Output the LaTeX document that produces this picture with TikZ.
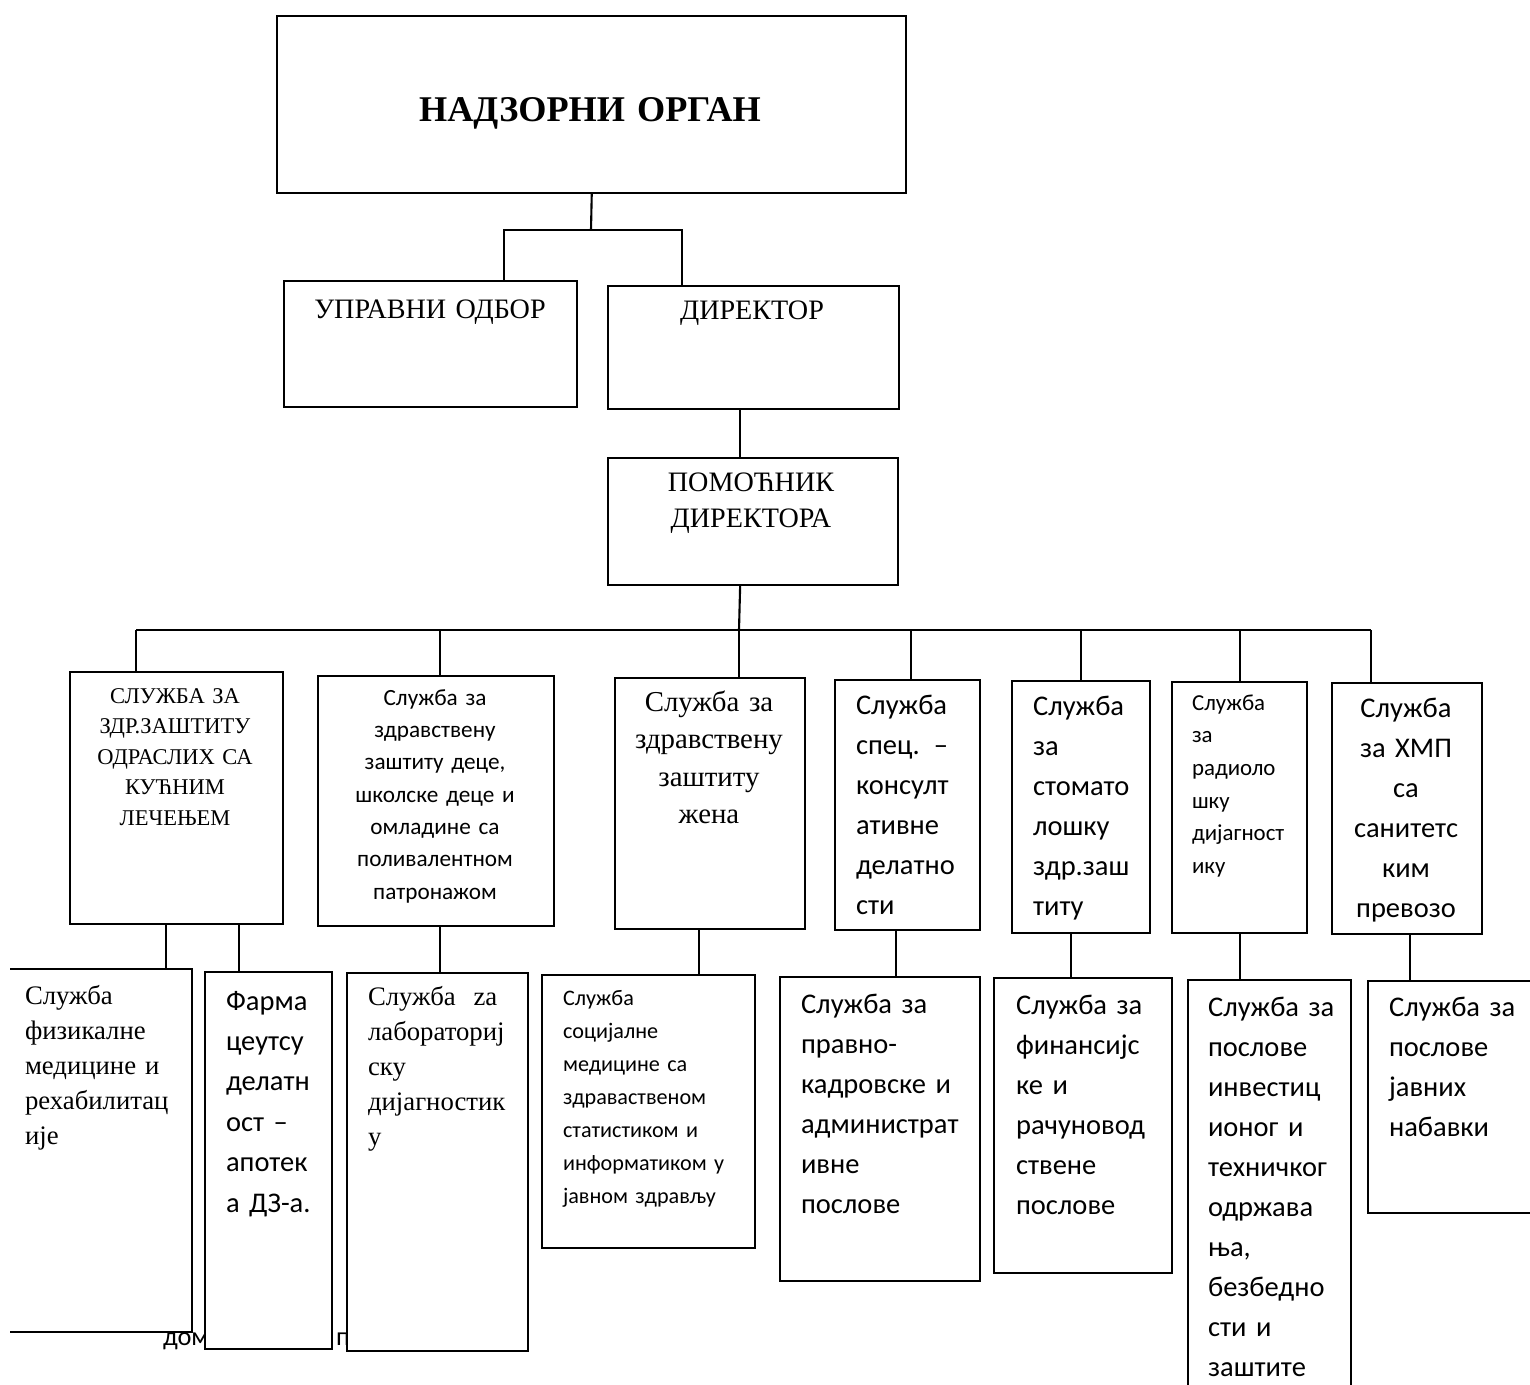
\documentclass[tikz,border=0pt]{standalone}
\usepackage{fontspec}
\setmainfont{Liberation Serif}
\setsansfont{Carlito}
\usetikzlibrary{positioning}

\begin{document}
\begin{tikzpicture}
        [x = 0.01cm, y = -0.01cm, line width = 0.6pt,
        box/.style = {draw, anchor = north west, inner sep = 0, fill = white},
        lbl/.style = {inner sep = 0, text width = 2.4cm, anchor = base west, align = left},
        clbl/.style = {inner sep = 0, text width = 3cm, anchor = base, align = center},
        caps/.style = {font = {\fontsize{6.4}{8.7}\selectfont\rmfamily}},
        serif/.style = {font = {\fontsize{7.6}{10}\selectfont\rmfamily}},
        bigserif/.style = {font = {\fontsize{8}{10.5}\selectfont\rmfamily}},
        sans/.style = {font = {\fontsize{8.1}{11.4}\selectfont\sffamily}},
        smallsans/.style = {font = {\fontsize{6.5}{9.3}\selectfont\sffamily}},
        foot/.style = {inner sep = 0, anchor = base west, font = {\fontsize{7.5}{9}\selectfont\sffamily}}]
        \clip (0,0) rectangle (1530,1385);
        \node[foot] (footl) at (162,1345) {дом};
        \node[foot] (footr) at (335,1345) {п};
        \node[box, minimum width = 6.29cm, minimum height = 1.77cm] (super) at (276,15) {};
        \node[clbl, text width = 6cm, font = {\fontsize{10.3}{12}\selectfont\bfseries}] (superlbl) at (590,122) {НАДЗОРНИ ОРГАН};
        \node[box, minimum width = 2.93cm, minimum height = 1.26cm] (board) at (283,280) {};
        \node[clbl, bigserif] (boardlbl) at (430,318) {УПРАВНИ ОДБОР};
        \node[box, minimum width = 2.91cm, minimum height = 1.23cm] (dir) at (607,285) {};
        \node[clbl, bigserif] (dirlbl) at (752,320) {ДИРЕКТОР};
        \node[box, minimum width = 2.90cm, minimum height = 1.27cm] (assist) at (607,457) {};
        \node[clbl, bigserif] (assistlbl) at (751,491) {ПОМОЋНИК\\ДИРЕКТОРА};
        \node[box, minimum width = 2.13cm, minimum height = 2.52cm] (adult) at (69,671) {};
        \node[clbl, caps] (adultlbl) at (175,703) {СЛУЖБА ЗА\\ЗДР.ЗАШТИТУ\\ОДРАСЛИХ СА\\КУЋНИМ\\ЛЕЧЕЊЕМ};
        \node[box, minimum width = 2.36cm, minimum height = 2.50cm] (child) at (317,675) {};
        \node[clbl, font = {\fontsize{6.6}{9.2}\selectfont\sffamily}] (childlbl) at (435,705) {Служба за\\здравствену\\заштиту деце,\\школске деце и\\омладине са\\поливалентном\\патронажом};
        \node[box, minimum width = 1.90cm, minimum height = 2.51cm] (women) at (614,677) {};
        \node[clbl, font = {\fontsize{8.2}{10.7}\selectfont\rmfamily}] (womenlbl) at (709,711) {Служба за\\здравствену\\заштиту\\жена};
        \node[box, minimum width = 1.45cm, minimum height = 2.50cm] (spec) at (834,679) {};
        \node[lbl, sans] (speclbl) at (855,714) {Служба\\спец. –\\консулт\\ативне\\делатно\\сти};
        \node[box, minimum width = 1.38cm, minimum height = 2.52cm] (dental) at (1011,680) {};
        \node[lbl, sans] (dentallbl) at (1032,715) {Служба\\за\\стомато\\лошку\\здр.заш\\титу};
        \node[box, minimum width = 1.35cm, minimum height = 2.51cm] (radiol) at (1171,681) {};
        \node[lbl, smallsans] (radiollbl) at (1191,710) {Служба\\за\\радиоло\\шку\\дијагност\\ику};
        \node[box, minimum width = 1.50cm, minimum height = 2.51cm] (hmp) at (1331,682) {};
        \node[clbl, sans] (hmplbl) at (1406,717) {Служба\\за ХМП\\са\\санитетс\\ким\\превозо};
        \node[anchor = north west, inner sep = 0, minimum width = 1.80cm, minimum height = 3.61cm] (phys) at (10,969) {};
        \draw (phys.north west) -- (phys.north east) -- (phys.south east) -- (phys.south west);
        \node[lbl, serif] (physlbl) at (24,1004) {Служба\\физикалне\\медицине и\\рехабилитац\\ије};
        \node[box, minimum width = 1.27cm, minimum height = 3.77cm] (pharm) at (204,971) {};
        \node[lbl, font = {\fontsize{8.1}{11.5}\selectfont\sffamily}] (pharmlbl) at (225,1010) {Фарма\\цеутсу\\делатн\\ост –\\апотек\\а ДЗ-а.};
        \node[box, minimum width = 1.81cm, minimum height = 3.78cm] (lab) at (346,972) {};
        \node[lbl, serif] (lablbl) at (367,1005) {Служба\ \ za\\лабораториј\\ску\\дијагностик\\у};
        \node[box, minimum width = 2.13cm, minimum height = 2.73cm] (social) at (541,974) {};
        \node[lbl, font = {\fontsize{6.3}{9.4}\selectfont\sffamily}] (sociallbl) at (562,1005) {Служба\\социјалне\\медицине са\\здраваственом\\статистиком и\\информатиком у\\јавном здрављу};
        \node[box, minimum width = 2.00cm, minimum height = 3.04cm] (legal) at (779,976) {};
        \node[lbl, sans] (legallbl) at (800,1013) {Служба за\\правно-\\кадровске и\\администрат\\ивне\\послове};
        \node[box, minimum width = 1.78cm, minimum height = 2.95cm] (finance) at (993,977) {};
        \node[lbl, sans] (financelbl) at (1015,1014) {Служба за\\финансијс\\ке и\\рачуновод\\ствене\\послове};
        \node[box, minimum width = 1.63cm, minimum height = 4.21cm] (invest) at (1187,979) {};
        \node[lbl, sans] (investlbl) at (1207,1016) {Служба за\\послове\\инвестиц\\ионог и\\техничког\\одржава\\ња,\\безбедно\\сти и\\заштите};
        \node[box, minimum width = 1.73cm, minimum height = 2.32cm] (procure) at (1367,980) {};
        \node[lbl, sans] (procurelbl) at (1388,1016) {Служба за\\послове\\јавних\\набавки};
        \coordinate (split) at (591,230);
        \coordinate (s1) at ([xshift = 7.35mm]board.north);
        \coordinate (s2) at ([xshift = -7.15mm]dir.north);
        \draw (super.south) -- (split);
        \draw (s1) |- (split) -| (s2);
        \coordinate (a1) at ([xshift = -1.35mm]dir.south);
        \draw (a1) -- (a1 |- assist.north);
        \coordinate (bus) at (739,630);
        \draw ([xshift = -1.3mm]assist.south) -- (bus);
        \coordinate (t1) at ([xshift = -4.05mm]adult.north);
        \coordinate (t2) at ([xshift = 0.4mm]child.north);
        \coordinate (t4) at ([xshift = 0.35mm]spec.north);
        \coordinate (t7) at ([xshift = -3.6mm]hmp.north);
        \draw (t1 |- bus) -- (t7 |- bus);
        \draw (t1) -- (t1 |- bus);
        \draw (t2) -- (t2 |- bus);
        \draw (bus) -- (bus |- women.north);
        \draw (t4) -- (t4 |- bus);
        \draw (dental.north) -- (dental.north |- bus);
        \draw (radiol.north) -- (radiol.north |- bus);
        \draw (t7) -- (t7 |- bus);
        \coordinate (b1) at ([xshift = -1.05mm]adult.south);
        \coordinate (b2) at ([xshift = 6.25mm]adult.south);
        \coordinate (b3) at ([xshift = 0.4mm]child.south);
        \coordinate (b4) at ([xshift = -1.1mm]women.south);
        \coordinate (b5) at ([xshift = -1.15mm]spec.south);
        \coordinate (b6) at ([xshift = -1mm]dental.south);
        \coordinate (b8) at ([xshift = 0.3mm]hmp.south);
        \draw (b1) -- (b1 |- phys.north);
        \draw (b2) -- (b2 |- pharm.north);
        \draw (b3) -- (b3 |- lab.north);
        \draw (b4) -- (b4 |- social.north);
        \draw (b5) -- (b5 |- legal.north);
        \draw (b6) -- (b6 |- finance.north);
        \draw (radiol.south) -- (radiol.south |- invest.north);
        \draw (b8) -- (b8 |- procure.north);
    \end{tikzpicture}
\end{document}
